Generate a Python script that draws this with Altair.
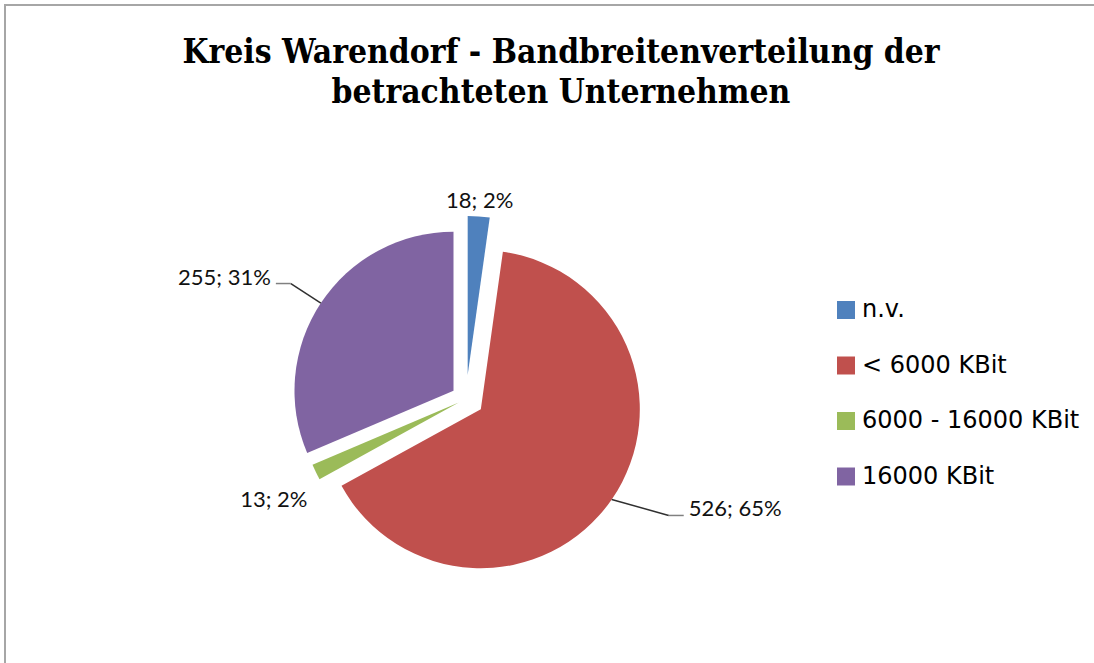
import altair as alt
import pandas as pd

# ---- data ----
categories = ["n.v.", "< 6000 KBit", "6000 - 16000 KBit", "16000 KBit"]
counts = [18, 526, 13, 255]
title_lines = ["Kreis Warendorf - Bandbreitenverteilung der", "betrachteten Unternehmen"]

# ---- styles ----
colors = ["#4F81BD", "#C0504D", "#9BBB59", "#8064A2"]
explode = [24, 18, 8, 15]            # px each slice is pulled out
label_dx = [1, 57, -42, -30]         # label anchor offset from arc midpoint
label_dy = [-9, 16, 33.5, -19.5]
label_align = ["center", "left", "center", "right"]
leader = [0, 1, 0, 1]

CX, CY, R = 466, 399, 159
W, H = 1094, 663

df = pd.DataFrame({
    "cat": categories,
    "count": counts,
    "order": list(range(len(categories))),
    "explode": explode,
    "ldx": label_dx,
    "ldy": label_dy,
    "align": label_align,
    "leader": leader,
})

base = alt.Chart(df).transform_joinaggregate(
    total="sum(count)"
).transform_window(
    cum="sum(count)", sort=[alt.SortField("order")], frame=[None, 0]
).transform_calculate(
    start="(datum.cum - datum.count) / datum.total * 2 * PI",
    end="datum.cum / datum.total * 2 * PI",
).transform_calculate(
    mid="(datum.start + datum.end) / 2",
).transform_calculate(
    vx=f"{CX} + datum.explode * sin(datum.mid)",
    vy=f"{CY} - datum.explode * cos(datum.mid)",
).transform_calculate(
    ax=f"datum.vx + {R} * sin(datum.mid)",
    ay=f"datum.vy - {R} * cos(datum.mid)",
).transform_calculate(
    lx="datum.ax + datum.ldx",
    ly="datum.ay + datum.ldy",
    label="datum.count + '; ' + format(datum.count / datum.total * 100, '.0f') + '%'",
).transform_calculate(
    hx="datum.align == 'left' ? datum.lx + 15 : datum.lx - 15",
    tx="datum.leader ? (datum.align == 'left' ? datum.lx + 20 : datum.lx - 20) : datum.lx",
)

pie = base.mark_arc(radius=R, stroke=None).encode(
    x=alt.X("vx:Q", scale=None, axis=None),
    y=alt.Y("vy:Q", scale=None, axis=None),
    theta=alt.Theta("start:Q", scale=None),
    theta2="end:Q",
    color=alt.Color(
        "cat:N",
        scale=alt.Scale(domain=categories, range=colors),
        legend=alt.Legend(
            title=None, orient="none", legendX=834, legendY=298,
            symbolType="square", symbolSize=324, symbolStrokeWidth=0,
            labelFont="DejaVu Sans", labelFontSize=24, labelColor="black",
            labelLimit=400, rowPadding=31.5, labelOffset=4, padding=0,
        ),
    ),
)

lead1 = base.transform_filter("datum.leader == 1").mark_rule(
    color="#303030", strokeWidth=1.5
).encode(
    x=alt.X("ax:Q", scale=None), y=alt.Y("ay:Q", scale=None),
    x2="lx:Q", y2="ly:Q",
)
lead2 = base.transform_filter("datum.leader == 1").mark_rule(
    color="#808080", strokeWidth=1.5
).encode(
    x=alt.X("lx:Q", scale=None), y=alt.Y("ly:Q", scale=None),
    x2="hx:Q", y2="ly:Q",
)

def label_layer(al):
    return base.transform_filter(f"datum.align == '{al}'").mark_text(
        align=al, baseline="alphabetic", font="Lato", fontSize=22,
        color="#111111", dy=1,
    ).encode(
        x=alt.X("tx:Q", scale=None), y=alt.Y("ly:Q", scale=None),
        text="label:N",
    )

labels = [label_layer(a) for a in ["center", "left", "right"]]

tdf = pd.DataFrame({"t": title_lines, "line": [0, 1]})
title = alt.Chart(tdf).transform_calculate(
    ty="63 + datum.line * 40"
).mark_text(
    align="center", baseline="alphabetic",
    font="DejaVu Serif Condensed, Liberation Serif", fontSize=33.3,
    fontWeight="bold", color="black",
).encode(
    x=alt.value(561), y=alt.Y("ty:Q", scale=None), text="t:N",
)

border_left = alt.Chart(tdf).mark_rule(color="#A6A6A6", strokeWidth=2).encode(
    x=alt.value(5), y=alt.value(4), y2=alt.value(H)
)
border_top = alt.Chart(tdf).mark_rule(color="#A6A6A6", strokeWidth=2).encode(
    x=alt.value(4), x2=alt.value(W), y=alt.value(5)
)

chart = alt.layer(
    border_left, border_top, title, pie, lead1, lead2, *labels
).properties(
    width=W, height=H, padding=0,
    autosize=alt.AutoSizeParams(type="none"),
    background="white",
).configure_view(stroke=None)

chart.save("out.html", embed_options={"renderer": "svg", "actions": False})
